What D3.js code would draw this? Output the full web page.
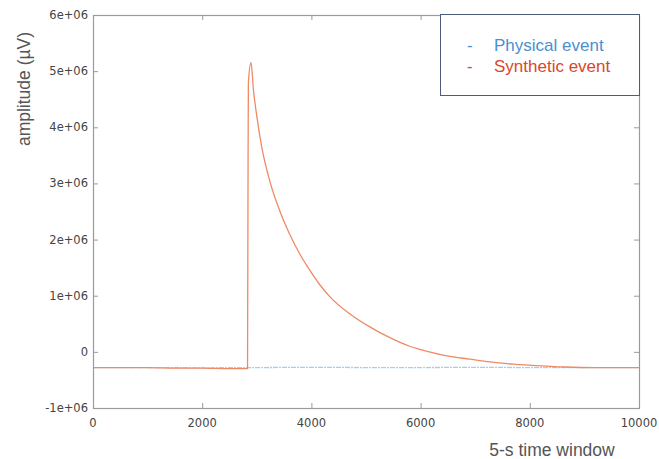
<!DOCTYPE html>
<html><head><meta charset="utf-8">
<script src="https://cdn.jsdelivr.net/npm/d3@7"></script>
<style>body{margin:0;background:#fff}svg{display:block}</style>
</head><body><svg id="c" width="659" height="459"></svg>
<script>
const xTicks = [0, 2000, 4000, 6000, 8000, 10000];
const yTicks = [-1e6, 0, 1e6, 2e6, 3e6, 4e6, 5e6, 6e6];
const yTickLabels = ["-1e+06", "0", "1e+06", "2e+06", "3e+06", "4e+06", "5e+06", "6e+06"];
const seriesNames = ["Physical event", "Synthetic event"];
const physicalT = [0, 1000, 2000, 3000, 4000, 5000, 6000, 7000, 8000, 9000, 10000];
const physicalV = [-0.28e6, -0.28e6, -0.285e6, -0.28e6, -0.275e6, -0.28e6, -0.28e6, -0.275e6, -0.28e6, -0.28e6, -0.28e6];
const syntheticT = [0, 500, 1000, 1500, 2000, 2500, 2830, 2840, 2846, 2894, 2940, 3000, 3090, 3250, 3425, 3600, 3800, 3940, 4150, 4340, 4700, 5070, 5400, 5800, 6000, 6480, 6900, 7270, 7700, 8190, 8650, 9200, 10000];
const syntheticV = [-0.28e6, -0.28e6, -0.28e6, -0.29e6, -0.29e6, -0.30e6, -0.30e6, 3.4e6, 4.8e6, 5.15e6, 4.65e6, 4.2e6, 3.65e6, 3.0e6, 2.5e6, 2.1e6, 1.72e6, 1.5e6, 1.2e6, 0.98e6, 0.68e6, 0.445e6, 0.27e6, 0.1e6, 0.04e6, -0.07e6, -0.13e6, -0.18e6, -0.22e6, -0.25e6, -0.27e6, -0.28e6, -0.28e6];

const svg = d3.select("#c");
const L = 93, R = 639, T = 15, B = 408;
const x = d3.scaleLinear().domain([0, 10000]).range([L, R]);
const y = d3.scaleLinear().domain([-1e6, 6e6]).range([B, T]);
const frame = "#9a9a9a", tickCol = "#444";

// tick labels
const tf = "DejaVu Sans";
svg.append("g").selectAll("text").data(xTicks).join("text")
  .attr("x", d => x(d)).attr("y", 427).attr("text-anchor", "middle")
  .attr("font-family", tf).attr("font-size", 11.5).attr("fill", tickCol)
  .text(d => d);
svg.append("g").selectAll("text").data(yTicks).join("text")
  .attr("x", 88).attr("y", d => y(d) + 4).attr("text-anchor", "end")
  .attr("font-family", tf).attr("font-size", 11.5).attr("fill", tickCol)
  .text((d, i) => yTickLabels[i]);

// inward ticks
const tk = svg.append("g").attr("stroke", frame).attr("stroke-width", 1);
xTicks.slice(1, -1).forEach(d => {
  tk.append("line").attr("x1", x(d) + 0.5).attr("x2", x(d) + 0.5).attr("y1", B).attr("y2", B - 5);
  tk.append("line").attr("x1", x(d) + 0.5).attr("x2", x(d) + 0.5).attr("y1", T).attr("y2", T + 5);
});
yTicks.slice(1, -1).forEach(d => {
  tk.append("line").attr("y1", y(d) + 0.5).attr("y2", y(d) + 0.5).attr("x1", L).attr("x2", L + 5);
  tk.append("line").attr("y1", y(d) + 0.5).attr("y2", y(d) + 0.5).attr("x1", R).attr("x2", R - 5);
});

// lines
const line = d3.line().x(d => x(d[0])).y(d => y(d[1]));
const smooth = d3.line().x(d => x(d[0])).y(d => y(d[1])).curve(d3.curveMonotoneX);
svg.append("path").datum(physicalT.map((t, i) => [t, physicalV[i]]))
  .attr("d", line).attr("fill", "none").attr("stroke", "#a5cdef").attr("stroke-width", 1.3)
  .attr("stroke-dasharray", "5 1 2 1");
svg.append("path").datum(syntheticT.map((t, i) => [t, syntheticV[i]]))
  .attr("d", smooth).attr("fill", "none").attr("stroke", "#ee8a64").attr("stroke-width", 1.3)
  .attr("stroke-linejoin", "round");

// frame
svg.append("rect").attr("x", L + 0.5).attr("y", T + 0.5).attr("width", R - L).attr("height", B - T)
  .attr("fill", "none").attr("stroke", frame).attr("stroke-width", 1.2);

// legend
const lg = svg.append("g");
lg.append("rect").attr("x", 440.5).attr("y", 14.5).attr("width", 199).attr("height", 81)
  .attr("fill", "#fff").attr("stroke", "#4d5b7c").attr("stroke-width", 1);
const legCols = ["#4a8fd0", "#d9472b"];
seriesNames.forEach((n, i) => {
  lg.append("text").attr("x", 467).attr("y", 51 + i * 21).attr("font-family", "Liberation Sans, Arial")
    .attr("font-size", 17).attr("fill", legCols[i]).text("-");
  lg.append("text").attr("x", 494).attr("y", 51 + i * 21).attr("font-family", "Liberation Sans, Arial")
    .attr("font-size", 17).attr("fill", legCols[i]).text(n);
});

// axis titles
svg.append("text").attr("transform", "translate(30,89) rotate(-90)").attr("text-anchor", "middle")
  .attr("font-family", "Liberation Sans, Arial").attr("font-size", 17.5).attr("fill", "#555")
  .text("amplitude (µV)");
svg.append("text").attr("x", 552).attr("y", 456).attr("text-anchor", "middle")
  .attr("font-family", "Liberation Sans, Arial").attr("font-size", 17.5).attr("fill", "#555")
  .text("5-s time window");
</script></body></html>
